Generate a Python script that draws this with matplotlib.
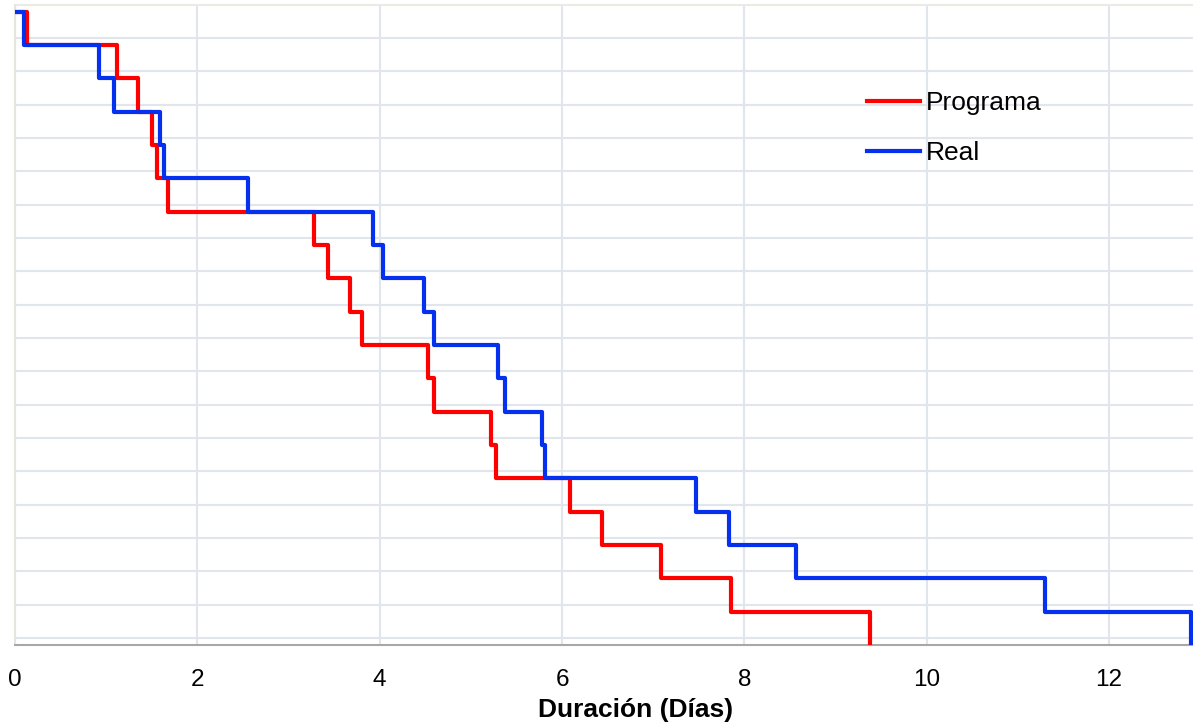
import matplotlib.pyplot as plt

# tiempos (días) en los que cae cada escalón
programa_x = [0, 0.13, 1.12, 1.35, 1.50, 1.56, 1.68, 3.28, 3.43, 3.67, 3.81,
              4.53, 4.60, 5.22, 5.27, 6.09, 6.44, 7.09, 7.85, 9.38]
real_x = [0, 0.10, 0.92, 1.09, 1.59, 1.63, 2.56, 3.93, 4.04, 4.49, 4.60,
          5.30, 5.37, 5.78, 5.81, 7.47, 7.83, 8.57, 11.30, 12.90]
niveles = [19, 18, 17, 16, 15, 14, 13, 12, 11, 10, 9, 8, 7, 6, 5, 4, 3, 2, 1, 0]
xticks = [0, 2, 4, 6, 8, 10, 12]

plt.rcParams['font.family'] = ['Liberation Sans', 'DejaVu Sans']

fig = plt.figure(figsize=(11.93, 7.27), dpi=100)
ax = fig.add_axes([15/1193, 1 - 645/727, 1 - 15/1193, 640/727])

ax.step(programa_x, niveles, where='post', color='#ff0000', lw=3, label='Programa', zorder=3)
ax.step(real_x, niveles, where='post', color='#0530ee', lw=3, label='Real', zorder=4)

ax.set_xlim(0, 12.92)
ax.set_ylim(0, 19.2)
ax.set_xticks(xticks)
ax.set_yticks([j + 0.21 for j in range(19)])
ax.set_yticklabels([])
ax.tick_params(axis='y', length=0)
ax.tick_params(axis='x', length=0, labelsize=17.5, pad=17)
ax.grid(True, color='#e1e5ec', lw=1.5, zorder=0)
ax.set_axisbelow(True)

for s in ['top', 'right']:
    ax.spines[s].set_visible(False)
ax.spines['left'].set_color('#e6e6e0')
ax.spines['left'].set_linewidth(1.5)
ax.spines['bottom'].set_color('#a8a8a8')
ax.spines['bottom'].set_linewidth(1.5)
ax.axhline(19.2, color='#ebebe4', lw=1.5, clip_on=False)

ax.set_xlabel('Duración (Días)', fontsize=19, fontweight='bold', labelpad=5.5)
ax.xaxis.label.set_x(0.527)

ax.legend(loc='upper left', bbox_to_anchor=(0.703, 0.903), frameon=False,
          fontsize=19, handlelength=2.0, handletextpad=0.22, labelspacing=1.0)

fig.savefig('out.png', dpi=100)
